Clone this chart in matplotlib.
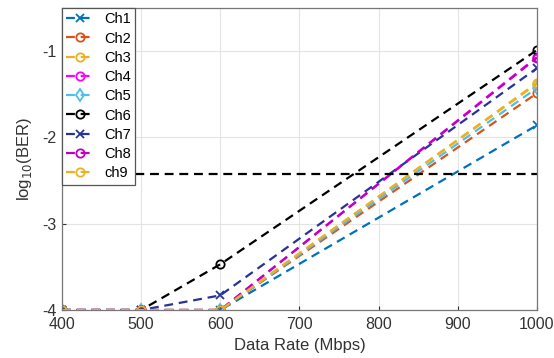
import numpy as np
import matplotlib.pyplot as plt

plt.rcParams['font.family'] = ['Liberation Sans', 'DejaVu Sans']
plt.rcParams['axes.unicode_minus'] = False

rate = [400, 500, 600, 1000]
ch1 = [-4, -4, -4, -1.86]
ch2 = [-4, -4, -4, -1.49]
ch3 = [-4, -4, -4, -1.38]
ch4 = [-4, -4, -4, -1.07]
ch5 = [-4, -4, -4, -1.43]
ch6 = [-4, -4, -3.47, -0.99]
ch7 = [-4, -4, -3.83, -1.20]
ch8 = [-4, -4, -4, -1.08]
ch9 = [-4, -4, -4, -1.37]
threshold = -2.42

names = ["Ch1", "Ch2", "Ch3", "Ch4", "Ch5", "Ch6", "Ch7", "Ch8", "ch9"]
series = [ch1, ch2, ch3, ch4, ch5, ch6, ch7, ch8, ch9]
colors = [(0, 0.447, 0.741), (0.85, 0.325, 0.098), (0.929, 0.694, 0.125),
          (1, 0, 1), (0.301, 0.745, 0.933), (0, 0, 0),
          (0.15, 0.2, 0.6), (0.75, 0, 0.75), (0.929, 0.694, 0.125)]
markers = ["x", "o", "o", "o", "d", "o", "x", "o", "o"]

fig = plt.figure(figsize=(5.54, 3.58), dpi=100)
ax = fig.add_axes([0.112, 0.134, 0.857, 0.844])

for y, name, c, m in zip(series, names, colors, markers):
    ax.plot(rate, y, linestyle=(0, (4, 2.6)), color=c, marker=m, mfc="none",
            mew=1.3, ms=6, lw=1.6, label=name)

ax.axhline(threshold, color="black", linestyle=(0, (4, 2.6)), lw=1.6)

ax.set_xlim(400, 1000)
ax.set_ylim(-4, -0.5)
ax.set_xticks(range(400, 1001, 100))
ax.set_yticks([-4, -3, -2, -1])
ax.grid(True, color="#e4e4e4", lw=0.8)
ax.set_axisbelow(True)
ax.tick_params(direction="in", length=3, labelsize=11.5, colors="#333333")
ax.tick_params(axis="x", pad=5)
ax.tick_params(axis="y", pad=4)
for s in ax.spines.values():
    s.set_color("#777777")
    s.set_linewidth(0.9)

ax.set_xlabel("Data Rate (Mbps)", fontsize=12, color="#333333", labelpad=4)
ax.set_ylabel(r"log$_{10}$(BER)", fontsize=12, color="#333333", labelpad=6)

leg = ax.legend(loc="upper left", fontsize=10.5, handlelength=1.8,
                labelspacing=0.36, borderaxespad=0, fancybox=False,
                framealpha=1, handletextpad=0.8, borderpad=0.3)
leg.get_frame().set_edgecolor("#555555")
leg.get_frame().set_linewidth(0.9)

plt.savefig("out.png", dpi=100)
